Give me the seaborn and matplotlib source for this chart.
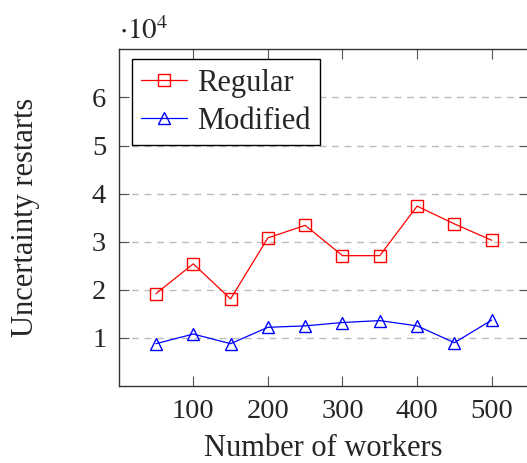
"""
Uncertainty restarts vs. number of workers (Regular vs Modified).
"""
import matplotlib
matplotlib.use("Agg")
import matplotlib.pyplot as plt
import seaborn as sns
import pandas as pd

workers = [50, 100, 150, 200, 250, 300, 350, 400, 450, 500]
regular = [19200, 25400, 18100, 30800, 33400, 27100, 27100, 37400, 33700, 30300]
modified = [8800, 10800, 8800, 12200, 12500, 13200, 13600, 12500, 9000, 13700]

sns.set_style("ticks")
plt.rcParams['font.family'] = ['Liberation Serif', 'DejaVu Serif']
plt.rcParams['mathtext.fontset'] = 'stix'

df = pd.DataFrame({
    'workers': workers * 2,
    'restarts': regular + modified,
    'series': ['Regular'] * len(workers) + ['Modified'] * len(workers),
})

fig = plt.figure(figsize=(5.27, 4.63), dpi=100)
ax = fig.add_axes([0.2252, 0.1663, 0.7786, 0.7272])

ax.grid(axis='y', color='#bdbdbd', linestyle=(0, (5, 4)), linewidth=1.0)
ax.set_axisbelow(True)

sns.lineplot(data=df, x='workers', y='restarts', hue='series', style='series',
             palette={'Regular': 'red', 'Modified': 'blue'},
             markers={'Regular': 's', 'Modified': '^'}, dashes=False,
             markersize=9, markerfacecolor='none', markeredgewidth=1.0,
             linewidth=0.9, ax=ax)
for line in ax.lines:
    line.set_markerfacecolor('none')
    line.set_markeredgecolor(line.get_color())

ax.set_xlim(0, 550)
ax.set_ylim(0, 70000)
ax.set_xticks([100, 200, 300, 400, 500])
ax.set_yticks([10000, 20000, 30000, 40000, 50000, 60000])
ax.set_yticklabels(['1', '2', '3', '4', '5', '6'])
ax.tick_params(direction='in', length=7, width=0.8, color='#555555',
               top=True, right=True, labelsize=20.5)
ax.tick_params(axis='x', pad=9)
ax.tick_params(axis='y', pad=9)
for s in ax.spines.values():
    s.set_linewidth(1.0)
    s.set_color('#333333')

ax.set_xlabel('Number of workers', fontsize=22, va='top')
ax.xaxis.set_label_coords((323.5 - 118.7) / 410.3, -0.143)
ax.set_ylabel('Uncertainty restarts', fontsize=22)
ax.yaxis.set_label_coords(-0.192, 1 - (217 - 49.3) / 336.7)
fig.text(119 / 527, 1 - 39 / 463, r'$\cdot 10^4$', fontsize=21, ha='left', va='baseline')

leg = ax.legend(loc='upper left', bbox_to_anchor=(0.032, 0.970), fontsize=22,
                frameon=True, fancybox=False, framealpha=1, edgecolor='black',
                handlelength=1.5, borderpad=0.3, labelspacing=0.3,
                handletextpad=0.35, borderaxespad=0)
leg.get_frame().set_linewidth(1.0)
for h in leg.get_lines():
    h.set_markerfacecolor('none')

fig.savefig('out.png', dpi=100)
